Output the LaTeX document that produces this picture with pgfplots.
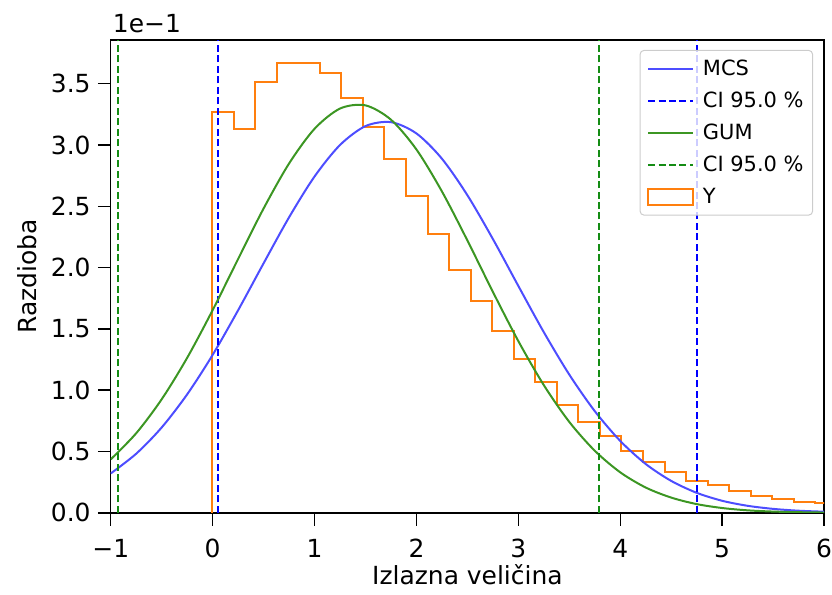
\documentclass[border=0pt]{standalone}
\usepackage{fontspec}
\setmainfont{DejaVu Sans}
\usepackage{pgfplots}
\pgfplotsset{compat=1.18}
\definecolor{mcsblue}{RGB}{77,77,255}
\definecolor{gumgreen}{RGB}{60,150,35}
\definecolor{cigreen}{RGB}{20,140,20}
\definecolor{historange}{RGB}{255,127,14}
\pgfplotsset{
  linelegend/.style={legend image code/.code={\draw[##1] (0pt,0pt) -- (45pt,0pt); \path (52pt,0pt);}},
  histlegend/.style={legend image code/.code={\draw[##1, sharp corners] (0pt,-8pt) rectangle (45pt,8pt); \path (52pt,0pt);}},
}
\begin{document}
\begin{tikzpicture}
\begin{axis}[
  name=ax,
  scale only axis, width=715pt, height=474pt,
  xmin=-1, xmax=6, ymin=0, ymax=3.857,
  xtick={-1,0,1,2,3,4,5,6},
  xticklabels={−1,0,1,2,3,4,5,6},
  ytick={0,0.5,1,1.5,2,2.5,3,3.5},
  yticklabels={0.0,0.5,1.0,1.5,2.0,2.5,3.0,3.5},
  tick align=outside, xtick pos=left, ytick pos=left,
  major tick length=13pt,
  every tick/.style={black, line width=1.5pt},
  axis line style={line width=1.5pt},
  ticklabel style={font=\fontsize{25}{30}\selectfont},
  xticklabel style={anchor=north, inner sep=0pt},
  xticklabel shift=13pt,
  yticklabel style={anchor=east, inner sep=0pt},
  yticklabel shift=7pt,
  label style={font=\fontsize{25}{30}\selectfont},
  xlabel={Izlazna veličina},
  xlabel style={at={(axis description cs:0.5,-0.1519)}, anchor=base},
  ylabel={Razdioba},
  ylabel style={at={(axis description cs:-0.1175,0.5)}, anchor=center},
  legend cell align=left,
  legend style={at={(1,1)}, anchor=north east, xshift=-11pt, yshift=-10pt,
    font=\fontsize{21}{25}\selectfont, draw=black!20, line width=1pt,
    rounded corners=4pt, fill=white, fill opacity=0.8, text opacity=1, draw opacity=1,
    inner xsep=7pt, inner ysep=8pt, row sep=11pt},
]
\addplot[historange, line width=2pt, const plot, forget plot] coordinates {
(-0.005,0) (-0.005,3.273) (0.2064,3.133) (0.4178,3.51) (0.6292,3.672) (0.8406,3.672)
(1.052,3.586) (1.2634,3.382) (1.4748,3.146) (1.6862,2.883) (1.8976,2.585) (2.109,2.27)
(2.3204,1.98) (2.5318,1.727) (2.7432,1.481) (2.9546,1.253) (3.166,1.066) (3.3774,0.879)
(3.5888,0.743) (3.8002,0.624) (4.0116,0.502) (4.223,0.412) (4.4344,0.336) (4.6458,0.26)
(4.8572,0.230) (5.0686,0.177) (5.28,0.141) (5.4914,0.114) (5.7028,0.087) (5.9142,0.076)
(6.1256,0.076) (6.1256,0)};
\addplot[mcsblue, line width=2pt, smooth, forget plot] coordinates {
(-1,0.321) (-0.75,0.482) (-0.5,0.696) (-0.25,0.966) (0,1.288) (0.25,1.652) (0.5,2.035)
(0.75,2.410) (1,2.743) (1.25,3.000) (1.5,3.154) (1.75,3.186) (2,3.094) (2.25,2.888)
(2.5,2.590) (2.75,2.233) (3,1.850) (3.25,1.473) (3.5,1.127) (3.75,0.829) (4,0.586)
(4.25,0.398) (4.5,0.260) (4.75,0.163) (5,0.098) (5.25,0.057) (5.5,0.032) (5.75,0.017) (6,0.009)};
\addplot[blue, line width=2pt, dash pattern=on 7pt off 3.5pt, forget plot] coordinates {(0.052,0) (0.052,3.857)};
\addplot[blue, line width=2pt, dash pattern=on 7pt off 3.5pt, forget plot] coordinates {(4.75,0) (4.75,3.857)};
\addplot[gumgreen, line width=2pt, smooth, forget plot] coordinates {
(-1,0.436) (-0.75,0.649) (-0.5,0.926) (-0.25,1.264) (0,1.653) (0.25,2.070) (0.5,2.482)
(0.75,2.849) (1,3.132) (1.25,3.297) (1.5,3.323) (1.75,3.206) (2,2.963) (2.25,2.621)
(2.5,2.221) (2.75,1.802) (3,1.400) (3.25,1.041) (3.5,0.741) (3.75,0.506) (4,0.330)
(4.25,0.206) (4.5,0.124) (4.75,0.071) (5,0.039) (5.25,0.020) (5.5,0.010) (5.75,0.005) (6,0.002)};
\addplot[cigreen, line width=2pt, dash pattern=on 7pt off 3.5pt, forget plot] coordinates {(-0.928,0) (-0.928,3.857)};
\addplot[cigreen, line width=2pt, dash pattern=on 7pt off 3.5pt, forget plot] coordinates {(3.787,0) (3.787,3.857)};
\addlegendimage{mcsblue, line width=2pt, linelegend}
\addlegendentry{MCS}
\addlegendimage{blue, line width=2pt, dash pattern=on 7pt off 3.5pt, linelegend}
\addlegendentry{CI 95.0 \%}
\addlegendimage{gumgreen, line width=2pt, linelegend}
\addlegendentry{GUM}
\addlegendimage{cigreen, line width=2pt, dash pattern=on 7pt off 3.5pt, linelegend}
\addlegendentry{CI 95.0 \%}
\addlegendimage{historange, line width=2pt, fill=white, histlegend}
\addlegendentry{Y}
\end{axis}
\node[anchor=base west, inner sep=0pt, font=\fontsize{25}{30}\selectfont] at ([xshift=2pt,yshift=7pt]ax.north west) {1e−1};
\path ([xshift=-111pt,yshift=-82pt]ax.south west) rectangle ([xshift=6pt,yshift=40pt]ax.north east);
\end{tikzpicture}
\end{document}
